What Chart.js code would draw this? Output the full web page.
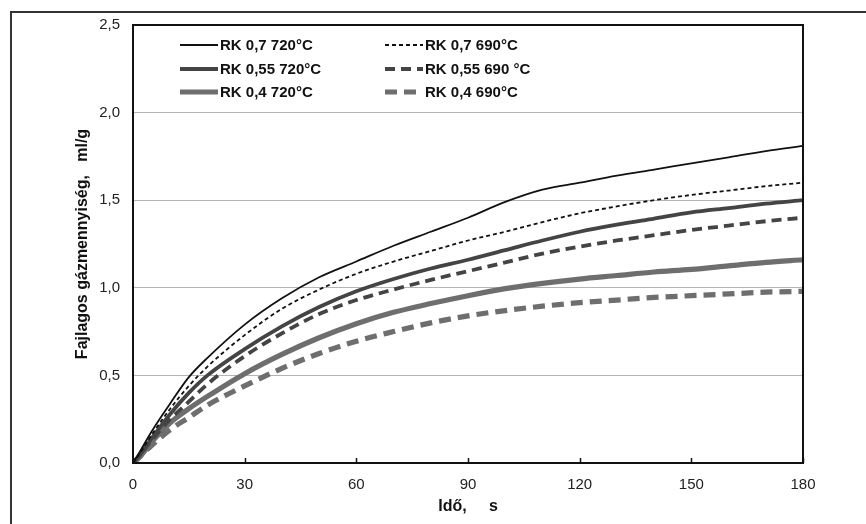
<!DOCTYPE html>
<html lang="hu">
<head>
  <meta charset="UTF-8" />
  <title>Fajlagos gázmennyiség</title>
  <script src="https://cdn.jsdelivr.net/npm/chart.js"></script>
  <style>
    body { margin: 0; background: #fff; }
    canvas { display: block; }
  </style>
</head>
<body>
  <canvas id="gasChart" width="866" height="524"></canvas>

  <script>
    // time, s
    const times = [0, 2, 5, 10, 15, 20, 30, 40, 50, 60, 70, 80, 90, 100, 110, 120, 130, 140, 150, 160, 170, 180];

    // ml/g
    const rk07_720  = [0, 0.07, 0.18, 0.34, 0.49, 0.60, 0.79, 0.94, 1.06, 1.15, 1.24, 1.32, 1.40, 1.49, 1.56, 1.60, 1.64, 1.675, 1.71, 1.745, 1.78, 1.81];
    const rk07_690  = [0, 0.06, 0.16, 0.31, 0.44, 0.55, 0.73, 0.88, 0.99, 1.08, 1.15, 1.21, 1.27, 1.32, 1.375, 1.425, 1.465, 1.50, 1.53, 1.555, 1.58, 1.60];
    const rk055_720 = [0, 0.05, 0.14, 0.28, 0.40, 0.50, 0.65, 0.78, 0.89, 0.98, 1.05, 1.11, 1.16, 1.215, 1.27, 1.32, 1.36, 1.395, 1.43, 1.455, 1.48, 1.50];
    const rk055_690 = [0, 0.05, 0.13, 0.25, 0.35, 0.45, 0.61, 0.74, 0.85, 0.93, 0.99, 1.045, 1.095, 1.145, 1.195, 1.235, 1.27, 1.30, 1.33, 1.355, 1.38, 1.40];
    const rk04_720  = [0, 0.04, 0.12, 0.23, 0.31, 0.38, 0.51, 0.62, 0.715, 0.795, 0.86, 0.91, 0.955, 0.995, 1.025, 1.05, 1.07, 1.09, 1.105, 1.125, 1.145, 1.16];
    const rk04_690  = [0, 0.04, 0.10, 0.19, 0.26, 0.33, 0.44, 0.54, 0.625, 0.695, 0.75, 0.80, 0.84, 0.87, 0.895, 0.915, 0.93, 0.945, 0.955, 0.965, 0.975, 0.98];

    const seriesLabels = ['RK 0,7 720°C', 'RK 0,7 690°C', 'RK 0,55 720°C', 'RK 0,55 690 °C', 'RK 0,4 720°C', 'RK 0,4 690°C'];
    const xTicks = [0, 30, 60, 90, 120, 150, 180];
    const yTickLabels = ['0,0', '0,5', '1,0', '1,5', '2,0', '2,5'];

    const FONT = "'Liberation Sans', Arial, sans-serif";

    function pts(vals) {
      return times.map((t, i) => ({ x: t, y: vals[i] }));
    }

    function ds(label, vals, color, width, dash) {
      return {
        label: label,
        data: pts(vals),
        borderColor: color,
        borderWidth: width,
        borderDash: dash,
        pointRadius: 0,
        fill: false,
        cubicInterpolationMode: 'monotone'
      };
    }

    // outer frame, plot box, inner x ticks
    const framePlugin = {
      id: 'frame',
      beforeDraw(chart) {
        const ctx = chart.ctx;
        ctx.save();
        ctx.strokeStyle = '#333';
        ctx.lineWidth = 2;
        ctx.beginPath();
        ctx.moveTo(11, 530);
        ctx.lineTo(11, 12);
        ctx.lineTo(870, 12);
        ctx.stroke();
        ctx.restore();
      },
      afterDraw(chart) {
        const ctx = chart.ctx;
        const a = chart.chartArea;
        const xs = chart.scales.x;
        ctx.save();
        ctx.strokeStyle = '#111';
        ctx.lineWidth = 2;
        ctx.strokeRect(a.left, a.top, a.right - a.left, a.bottom - a.top);
        ctx.beginPath();
        xTicks.forEach(v => {
          const px = Math.round(xs.getPixelForValue(v)) + 0.5;
          ctx.moveTo(px, a.bottom);
          ctx.lineTo(px, a.bottom - 5);
        });
        ctx.lineWidth = 1.5;
        ctx.stroke();
        ctx.restore();
      }
    };

    // legend in two columns inside the plot
    const legendPlugin = {
      id: 'innerLegend',
      afterDraw(chart) {
        const ctx = chart.ctx;
        const cols = [180, 385];
        const rows = [45, 69, 92];
        ctx.save();
        ctx.font = 'bold 15px ' + FONT;
        ctx.fillStyle = '#111';
        ctx.textBaseline = 'middle';
        chart.data.datasets.forEach((d, i) => {
          const x = cols[i % 2];
          const y = rows[Math.floor(i / 2)];
          ctx.strokeStyle = d.borderColor;
          ctx.lineWidth = d.borderWidth;
          ctx.setLineDash(d.borderDash || []);
          ctx.beginPath();
          ctx.moveTo(x, y);
          ctx.lineTo(x + 38, y);
          ctx.stroke();
          ctx.setLineDash([]);
          ctx.fillText(d.label, x + 40, y + 1);
        });
        ctx.restore();
      }
    };

    const ctx = document.getElementById('gasChart').getContext('2d');

    new Chart(ctx, {
      type: 'line',
      data: {
        datasets: [
          ds(seriesLabels[0], rk07_720, '#111', 1.8, []),
          ds(seriesLabels[1], rk07_690, '#111', 1.8, [4, 3]),
          ds(seriesLabels[2], rk055_720, '#444', 3.8, []),
          ds(seriesLabels[3], rk055_690, '#444', 3.8, [10, 6]),
          ds(seriesLabels[4], rk04_720, '#6e6e6e', 5.2, []),
          ds(seriesLabels[5], rk04_690, '#6e6e6e', 5.2, [12, 7])
        ]
      },
      options: {
        responsive: false,
        animation: false,
        layout: { padding: { left: 0, top: 25, right: 63, bottom: 0 } },
        plugins: {
          legend: { display: false },
          tooltip: { enabled: false }
        },
        scales: {
          x: {
            type: 'linear',
            min: 0,
            max: 180,
            afterFit(s) { s.height = 61; },
            afterBuildTicks(s) { s.ticks = xTicks.map(v => ({ value: v })); },
            grid: { display: false, drawTicks: false },
            border: { display: false },
            ticks: {
              padding: 13,
              color: '#222',
              font: { family: FONT, size: 15 },
              callback: v => String(v)
            },
            title: {
              display: true,
              text: 'Idő,     s',
              color: '#111',
              font: { family: FONT, size: 16, weight: 'bold' },
              padding: { top: 0, bottom: 8 }
            }
          },
          y: {
            min: 0,
            max: 2.5,
            afterFit(s) { s.width = 133; },
            ticks: {
              stepSize: 0.5,
              padding: 13,
              color: '#222',
              font: { family: FONT, size: 15 },
              callback: (v, i) => yTickLabels[i]
            },
            grid: { color: '#b4b4b4', lineWidth: 1, drawTicks: false },
            border: { display: false },
            title: {
              display: true,
              text: 'Fajlagos gázmennyiség,   ml/g',
              color: '#111',
              font: { family: FONT, size: 16, weight: 'bold' },
              padding: { top: 73, bottom: 0 }
            }
          }
        }
      },
      plugins: [framePlugin, legendPlugin]
    });
  </script>
</body>
</html>
